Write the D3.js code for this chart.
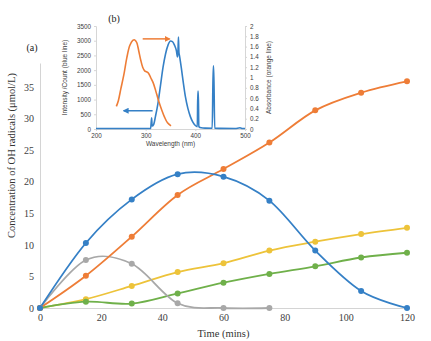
<!DOCTYPE html>
<html>
<head>
<meta charset="utf-8">
<script src="https://cdn.jsdelivr.net/npm/d3@7"></script>
<style>
  body { margin: 0; background: #fff; }
  svg text { font-family: "Liberation Serif", "Times New Roman", serif; }
  .inset text { font-family: "Liberation Sans", Arial, sans-serif; }
</style>
</head>
<body>
<svg id="chart"></svg>
<script>
// main chart: OH radical concentration vs time
const times = [0, 15, 30, 45, 60, 75, 90, 105, 120];
const blueVals   = [0, 10.3, 17.2, 21.2, 20.8, 17.0, 9.1, 2.7, 0];
const orangeVals = [0, 5.1, 11.3, 17.9, 22.0, 26.2, 31.3, 34.1, 35.9];
const grayVals   = [0, 7.6, 7.0, 0.75, 0, 0];
const yellowVals = [0, 1.4, 3.5, 5.7, 7.1, 9.1, 10.5, 11.7, 12.7];
const greenVals  = [0, 1.0, 0.7, 2.3, 4.0, 5.4, 6.6, 8.0, 8.75];
const xTicks = [0, 20, 40, 60, 80, 100, 120];
const yTicks = [0, 5, 10, 15, 20, 25, 30, 35];

// inset (b): emission spectrum (blue) and absorbance (orange)
const emissionNm = [200, 305, 310, 312, 313, 316, 320, 325, 330, 335, 340, 345, 350, 354, 358, 362, 364, 365, 366, 367, 368, 372, 376, 380, 385, 390, 395, 400, 404, 405, 406, 407, 412, 420, 434, 436, 437, 439, 450, 480, 490, 495, 500];
const emissionCount = [15, 15, 20, 380, 100, 150, 450, 900, 1500, 2100, 2550, 2850, 2990, 2970, 2850, 2650, 2450, 2600, 3125, 2600, 2500, 2050, 1550, 1100, 700, 420, 230, 120, 80, 1280, 1280, 80, 40, 30, 25, 2135, 2135, 25, 20, 15, 40, 15, 15];
const absNm = [241, 245, 250, 256, 262, 268, 274, 278, 282, 286, 290, 294, 298, 302, 306, 310, 315, 320, 326, 332, 338, 344, 351];
const absVals = [0.44, 0.55, 0.78, 1.05, 1.38, 1.62, 1.72, 1.73, 1.68, 1.52, 1.34, 1.2, 1.13, 1.11, 1.08, 1.0, 0.9, 0.75, 0.55, 0.38, 0.23, 0.12, 0.06];
const insetXTicks = [200, 300, 400, 500];
const insetLeftTicks = [0, 500, 1000, 1500, 2000, 2500, 3000, 3500];
const insetRightTicks = [0, 0.2, 0.4, 0.6, 0.8, 1, 1.2, 1.4, 1.6, 1.8, 2];

const W = 431, H = 341;
const svg = d3.select('#chart').attr('width', W).attr('height', H);

const margin = { top: 63, right: 24, bottom: 33, left: 40 };
const width = W - margin.left - margin.right;
const height = H - margin.top - margin.bottom;

const x = d3.scaleLinear().domain([0, 120]).range([0, width]);
const y = d3.scaleLinear().domain([0, 38.8]).range([height, 0]);

const chart = svg.append('g').attr('transform', `translate(${margin.left},${margin.top})`);

// axes
const xAxisG = chart.append('g')
  .attr('transform', `translate(0,${height})`)
  .call(d3.axisBottom(x).tickValues(xTicks).tickSize(0).tickPadding(6));
const yAxisG = chart.append('g')
  .call(d3.axisLeft(y).tickValues(yTicks).tickSize(0).tickPadding(6));
[xAxisG, yAxisG].forEach(g => {
  g.select('.domain').attr('stroke', '#d4d4d4').attr('stroke-width', 1);
  g.selectAll('text').attr('font-size', 10).attr('fill', '#404040')
    .style('font-family', '"Liberation Serif", serif');
});

const series = [
  { color: '#edc33a', vals: yellowVals },
  { color: '#6fb04a', vals: greenVals },
  { color: '#a8a8a8', vals: grayVals },
  { color: '#ee7d37', vals: orangeVals },
  { color: '#3580c6', vals: blueVals }
];
series.forEach(s => {
  s.pts = s.vals.map((v, i) => ({ t: times[i], v: v }));
});

const line = d3.line()
  .x(d => x(d.t))
  .y(d => y(d.v))
  .curve(d3.curveCardinal.tension(0));

chart.selectAll('.series')
  .data(series)
  .join('path')
  .attr('class', 'series')
  .attr('fill', 'none')
  .attr('stroke', d => d.color)
  .attr('stroke-width', 1.8)
  .attr('d', d => line(d.pts));

series.forEach(s => {
  chart.selectAll(null)
    .data(s.pts)
    .join('circle')
    .attr('cx', d => x(d.t))
    .attr('cy', d => y(d.v))
    .attr('r', 3)
    .attr('fill', s.color);
});

// axis titles
chart.append('text')
  .attr('x', width / 2)
  .attr('y', height + 29)
  .attr('text-anchor', 'middle')
  .attr('font-size', 10.5)
  .attr('fill', '#333')
  .text('Time (mins)');

chart.append('text')
  .attr('transform', 'rotate(-90)')
  .attr('x', -height / 2 + 30)
  .attr('y', -25)
  .attr('text-anchor', 'middle')
  .attr('font-size', 10.5)
  .attr('fill', '#333')
  .text('Concentration of OH radicals (μmol/L)');

svg.append('text')
  .attr('x', 32).attr('y', 51)
  .attr('text-anchor', 'middle')
  .attr('font-size', 10)
  .attr('fill', '#222')
  .text('(a)');

// ---- inset (b) ----
const inset = svg.append('g').attr('class', 'inset').attr('transform', 'translate(96,26)');
const iw = 149, ih = 103;
const ix = d3.scaleLinear().domain([200, 500]).range([0, iw]);
const iyL = d3.scaleLinear().domain([0, 3500]).range([ih, 0]);
const iyR = d3.scaleLinear().domain([0, 2]).range([ih, 0]);

const ixAxis = inset.append('g').attr('transform', `translate(0,${ih})`)
  .call(d3.axisBottom(ix).tickValues(insetXTicks).tickSize(2).tickPadding(3).tickFormat(d => d));
const iyAxisL = inset.append('g')
  .call(d3.axisLeft(iyL).tickValues(insetLeftTicks).tickSize(2).tickPadding(3).tickFormat(d => d));
const iyAxisR = inset.append('g').attr('transform', `translate(${iw},0)`)
  .call(d3.axisRight(iyR).tickValues(insetRightTicks).tickSize(2).tickPadding(3).tickFormat(d => d));
[ixAxis, iyAxisL, iyAxisR].forEach(g => {
  g.select('.domain').attr('stroke', '#d6d6d6');
  g.selectAll('.tick line').attr('stroke', '#d6d6d6');
  g.selectAll('text').attr('font-size', 6.3).attr('fill', '#404040')
    .style('font-family', '"Liberation Sans", sans-serif');
});

const emission = emissionNm.map((n, i) => ({ n: n, v: emissionCount[i] }));
const absorb = absNm.map((n, i) => ({ n: n, v: absVals[i] }));

inset.append('path')
  .attr('fill', 'none')
  .attr('stroke', '#3580c6')
  .attr('stroke-width', 1.6)
  .attr('d', d3.line().x(d => ix(d.n)).y(d => iyL(d.v)).curve(d3.curveMonotoneX)(emission));

inset.append('path')
  .attr('fill', 'none')
  .attr('stroke', '#ee7d37')
  .attr('stroke-width', 1.6)
  .attr('d', d3.line().x(d => ix(d.n)).y(d => iyR(d.v)).curve(d3.curveCatmullRom)(absorb));

// arrows
const defs = svg.append('defs');
[['arrO', '#ee7d37'], ['arrB', '#3580c6']].forEach(([id, c]) => {
  defs.append('marker')
    .attr('id', id).attr('viewBox', '0 0 10 10')
    .attr('refX', 8).attr('refY', 5)
    .attr('markerWidth', 4).attr('markerHeight', 4)
    .attr('orient', 'auto')
    .append('path').attr('d', 'M0,0L10,5L0,10z').attr('fill', c);
});
inset.append('line')
  .attr('x1', ix(294)).attr('x2', ix(348))
  .attr('y1', iyR(1.75)).attr('y2', iyR(1.75))
  .attr('stroke', '#ee7d37').attr('stroke-width', 1.5)
  .attr('marker-end', 'url(#arrO)');
inset.append('line')
  .attr('x1', ix(314)).attr('x2', ix(256))
  .attr('y1', iyL(620)).attr('y2', iyL(620))
  .attr('stroke', '#3580c6').attr('stroke-width', 1.5)
  .attr('marker-end', 'url(#arrB)');

inset.append('text')
  .attr('x', iw / 2).attr('y', ih + 17)
  .attr('text-anchor', 'middle')
  .attr('font-size', 6.5).attr('fill', '#404040')
  .text('Wavelength (nm)');
inset.append('text')
  .attr('transform', 'rotate(-90)')
  .attr('x', -ih / 2).attr('y', -29)
  .attr('text-anchor', 'middle')
  .attr('font-size', 6.5).attr('fill', '#404040')
  .text('Intensity /Count (blue line)');
inset.append('text')
  .attr('transform', 'rotate(-90)')
  .attr('x', -ih / 2).attr('y', iw + 26)
  .attr('text-anchor', 'middle')
  .attr('font-size', 6.5).attr('fill', '#404040')
  .text('Absorbance (orange line)');

svg.append('text')
  .attr('x', 114).attr('y', 22)
  .attr('text-anchor', 'middle')
  .attr('font-size', 10)
  .attr('fill', '#222')
  .text('(b)');
</script>
</body>
</html>
